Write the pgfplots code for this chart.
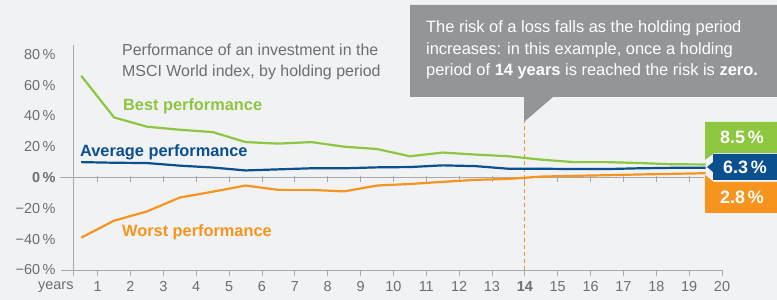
\documentclass[border=0pt]{standalone}
\usepackage{pgfplots}
\pgfplotsset{compat=1.18}
\usepackage{fontspec}
\setmainfont{Liberation Sans}
\definecolor{bg}{HTML}{F1F2F4}
\definecolor{txtgray}{HTML}{6D6E71}
\definecolor{axgray}{HTML}{A7A9AC}
\definecolor{cgreen}{HTML}{8DC63F}
\definecolor{cblue}{HTML}{0A4F8E}
\definecolor{corange}{HTML}{F7941E}
\definecolor{callout}{HTML}{939598}
\begin{document}
\begin{tikzpicture}
\path[use as bounding box] (0,0) rectangle (777bp,300bp);
\clip (0,0) rectangle (777bp,300bp);
\begin{scope}[x=1bp,y=1bp]
\fill[bg] (0,0) rectangle (777,300);
% callout
\fill[callout] (410,295) -- (800,295) -- (800,203) -- (553,203) -- (524,178) -- (524,203) -- (410,203) -- cycle;
\node[anchor=north west, text=white, align=left, font=\fontsize{16.5}{22}\selectfont, inner sep=0] at (426,280)
 {The risk of a loss falls as the holding period\\increases: in this example, once a holding\\period of \textbf{14 years} is reached the risk is \textbf{zero.}};
\end{scope}
\begin{axis}[
  at={(73bp,30bp)}, anchor=south west,
  scale only axis, width=649bp, height=225bp,
  xmin=0.25, xmax=20, ymin=-60, ymax=86,
  clip=false,
  axis x line*=bottom, axis y line*=left,
  axis line style={axgray, line width=0.8bp, -},
  xtick={1,...,20},
  xticklabels={1,2,3,4,5,6,7,8,9,10,11,12,13,\textbf{14},15,16,17,18,19,20},
  extra x ticks={0.25}, extra x tick labels={years},
  extra x tick style={xticklabel style={anchor=north east, xshift=4bp}},
  tick align=outside,
  major tick length=6bp,
  xtick style={axgray, line width=0.8bp},
  ytick={-60,-40,-20,0,20,40,60,80},
  yticklabels={−60\,\%,−40\,\%,−20\,\%,\textbf{0\,\%},20\,\%,40\,\%,60\,\%,80\,\%},
  ytick style={draw=none},
  ticklabel style={font=\fontsize{14.5}{16}\selectfont, text=txtgray},
  yticklabel style={anchor=east, xshift=-8bp},
  xticklabel style={yshift=-2bp},
]
\draw[axgray, line width=0.8bp] (axis cs:-0.15,0) -- (axis cs:19.45,0);
\draw[axgray, line width=0.8bp] (axis cs:-0.1,-60) -- (axis cs:0.25,-60);
\pgfplotsinvokeforeach{1,...,19}{\draw[axgray, line width=0.8bp] (axis cs:#1,1.3) -- (axis cs:#1,-2.6);}
\draw[corange, line width=1bp, dash pattern=on 4bp off 3bp] (axis cs:14,-60) -- (axis cs:14,36);
\addplot[cgreen, line width=2.2bp, line join=round] coordinates {
(0.5,66)(1.5,39)(2.5,33)(3.5,31)(4.5,29.5)(5.5,23)(6.5,22)(7.5,23)(8.5,20)(9.5,18.5)
(10.5,13.8)(11.5,16.2)(12.5,14.9)(13.5,13.8)(14.5,11.6)(15.5,10)(16.5,10)(17.5,9.4)(18.5,8.6)(19.5,8.5)};
\addplot[cblue, line width=2.2bp, line join=round] coordinates {
(0.5,10)(1.5,9.6)(2.5,9.4)(3.5,7.7)(4.5,6.5)(5.5,4.6)(6.5,5.3)(7.5,6)(8.5,6)(9.5,6.6)
(10.5,6.8)(11.5,7.9)(12.5,7.4)(13.5,5.7)(14.5,5.7)(15.5,5.5)(16.5,5.5)(17.5,6)(18.5,6.3)(19.5,6.3)};
\addplot[corange, line width=2.2bp, line join=round] coordinates {
(0.5,-39)(1.5,-28)(2.5,-22)(3.5,-13)(4.5,-9.2)(5.5,-5.2)(6.5,-8)(7.5,-8)(8.5,-9)(9.5,-5.2)
(10.5,-4.2)(11.5,-2.8)(12.5,-1.5)(13.5,-0.9)(14.5,0.6)(15.5,1.1)(16.5,1.5)(17.5,2)(18.5,2.4)(19.5,2.8)};
\end{axis}
\begin{scope}[x=1bp,y=1bp]
% series labels
\node[anchor=west, inner sep=0, text=txtgray, align=left, font=\fontsize{16}{21}\selectfont] at (122,238)
 {Performance of an investment in the\\MSCI World index, by holding period};
\node[anchor=west, inner sep=0, text=cgreen, font=\fontsize{16.4}{18}\selectfont\bfseries] at (123,194) {Best performance};
\node[anchor=west, inner sep=0, text=cblue, font=\fontsize{16.4}{18}\selectfont\bfseries] at (80,148) {Average performance};
\node[anchor=west, inner sep=0, text=corange, font=\fontsize{16.4}{18}\selectfont\bfseries] at (122,68) {Worst performance};
% end value boxes
\fill[cgreen] (705,178) -- (800,178) -- (800,147) -- (714,147) -- (705,140) -- cycle;
\fill[corange] (705,87) -- (800,87) -- (800,118) -- (714,118) -- (705,125) -- cycle;
\fill[cblue] (713,146) -- (800,146) -- (800,120) -- (713,120) -- (713,128) -- (707,133) -- (713,138) -- cycle;
\node[text=white, font=\fontsize{18}{20}\selectfont\bfseries] at (742,163) {8.5\,\%};
\node[text=white, font=\fontsize{18}{20}\selectfont\bfseries] at (745,133) {6.3\,\%};
\node[text=white, font=\fontsize{18}{20}\selectfont\bfseries] at (742,103) {2.8\,\%};
\end{scope}
\end{tikzpicture}
\end{document}
